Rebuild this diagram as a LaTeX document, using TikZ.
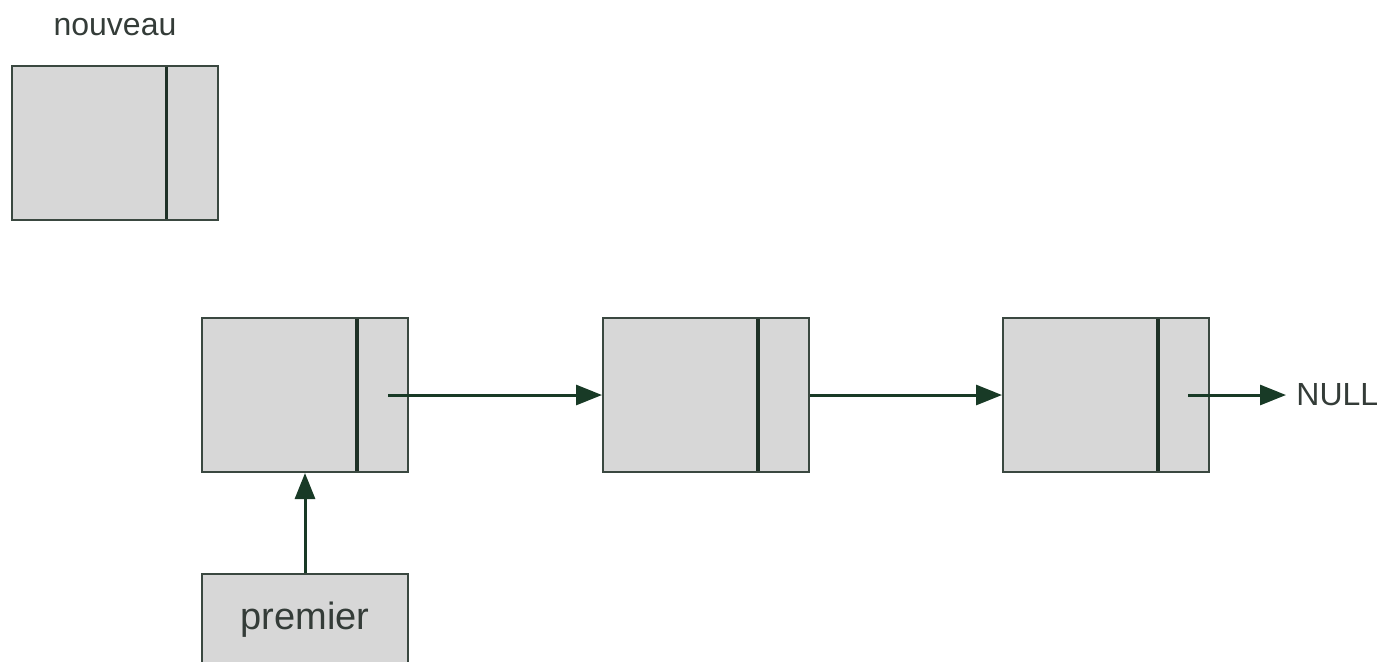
\documentclass[tikz,border=0pt]{standalone}
\usepackage{fontspec}
\setmainfont{Liberation Sans}
\usepackage{xcolor}
\usetikzlibrary{arrows.meta}
\definecolor{GrisCase}{RGB}{215,215,215}
\definecolor{VertTrait}{RGB}{58,72,64}
\definecolor{VertCloison}{RGB}{30,48,38}
\definecolor{VertFleche}{RGB}{24,58,38}
\definecolor{GrisTexte}{RGB}{52,60,56}

\begin{document}
\begin{tikzpicture}[x=0.5pt,y=-0.5pt,>={Triangle[length=13pt,width=10pt]},
  cellule/.style={draw=VertTrait,line width=1pt,fill=GrisCase,minimum width=103pt,minimum height=77pt,inner sep=0pt,
    path picture={\draw[VertCloison,line width=1.6pt] ([xshift=-25.5pt]path picture bounding box.north east) -- ([xshift=-25.5pt]path picture bounding box.south east);}},
  fleche/.style={->,VertFleche,line width=1.5pt},
  texte/.style={text=GrisTexte,font=\fontsize{16pt}{19pt}\selectfont}]
  \useasboundingbox (0,0) rectangle (1380,661);
  % nouvelle cellule, pas encore reliee
  \node[texte] (lnouveau) at (115,27) {nouveau};
  \node[cellule] (nouveau) at (114.5,143) {};
  % la liste chainee
  \node[cellule] (c1) at (305,395) {};
  \node[cellule] (c2) at (706,395) {};
  \node[cellule] (c3) at (1106,395) {};
  \node[texte,anchor=west,inner sep=5pt] (null) at (1286,395) {NULL};
  \node[draw=VertTrait,line width=1pt,fill=GrisCase,minimum width=103pt,minimum height=46pt,inner sep=0pt,
    text=GrisTexte,font=\fontsize{19pt}{23pt}\selectfont] (premier) at (305,620) {premier};
  \draw[fleche] ([xshift=-10.5pt]c1.east) -- (c2.west);
  \draw[fleche] (c2.east) -- (c3.west);
  \draw[fleche] ([xshift=-11pt]c3.east) -- (null.west);
  \draw[fleche] (premier.north) -- (c1.south);
\end{tikzpicture}
\end{document}
